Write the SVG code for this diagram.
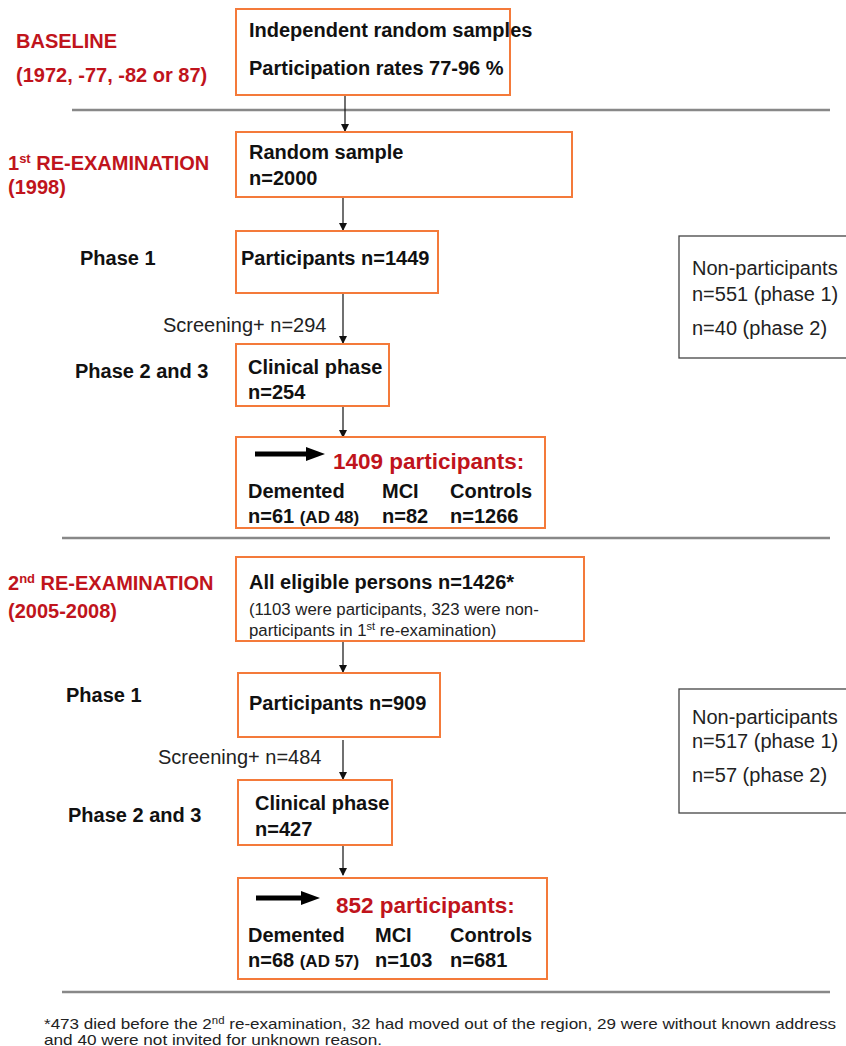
<svg xmlns="http://www.w3.org/2000/svg" width="846" height="1046" viewBox="0 0 846 1046">
<style>
.box{fill:#fff;stroke:#f47a3a;stroke-width:2}
.gbox{fill:#fff;stroke:#444;stroke-width:1.3}
.t{font-family:"Liberation Sans",Arial,sans-serif;font-size:20px;font-weight:bold;fill:#111}
.r{font-family:"Liberation Sans",Arial,sans-serif;font-size:20px;font-weight:bold;fill:#c0141c}
.rb{font-family:"Liberation Sans",Arial,sans-serif;font-size:22.5px;font-weight:bold;fill:#c0141c}
.n{font-family:"Liberation Sans",Arial,sans-serif;font-size:20px;fill:#222}
.s{font-family:"Liberation Sans",Arial,sans-serif;font-size:16.8px;fill:#222}
.f{font-family:"Liberation Sans",Arial,sans-serif;font-size:15px;fill:#222}
.sep{stroke:#888;stroke-width:2.5}
.con{stroke:#111;stroke-width:1.2;fill:none;marker-end:url(#ah)}
</style>
<defs>
<marker id="ah" markerWidth="8" markerHeight="8" refX="7" refY="4" orient="auto" markerUnits="userSpaceOnUse">
<path d="M0,0 L8,4 L0,8 Z" fill="#111"/>
</marker>
</defs>
<rect width="846" height="1046" fill="#fff"/>

<g id="separators">
<line class="sep" x1="72" y1="110" x2="830" y2="110"/>
<line class="sep" x1="62" y1="538" x2="830" y2="538"/>
<line class="sep" x1="62" y1="992" x2="830" y2="992"/>
</g>

<g id="labels">
<text class="r" x="16" y="48">BASELINE</text>
<text class="r" x="16" y="82">(1972, -77, -82 or 87)</text>
<text class="r" x="8" y="170">1<tspan font-size="13" dy="-7">st</tspan><tspan dy="7"> RE-EXAMINATION</tspan></text>
<text class="r" x="8" y="194">(1998)</text>
<text class="t" x="80" y="265">Phase 1</text>
<text class="t" x="75" y="378">Phase 2 and 3</text>
<text class="r" x="8" y="590">2<tspan font-size="13" dy="-7">nd</tspan><tspan dy="7"> RE-EXAMINATION</tspan></text>
<text class="r" x="8" y="618">(2005-2008)</text>
<text class="t" x="66" y="702">Phase 1</text>
<text class="t" x="68" y="822">Phase 2 and 3</text>
</g>

<g id="connectors">
<line class="con" x1="345" y1="95" x2="345" y2="131"/>
<line class="con" x1="343" y1="197" x2="343" y2="230"/>
<line class="con" x1="343" y1="293" x2="343" y2="343"/>
<line class="con" x1="343" y1="406" x2="343" y2="437"/>
<line class="con" x1="343" y1="641" x2="343" y2="672"/>
<line class="con" x1="343" y1="740" x2="343" y2="779"/>
<line class="con" x1="343" y1="845" x2="343" y2="875"/>
<text class="n" x="163" y="332">Screening+ n=294</text>
<text class="n" x="158" y="764">Screening+ n=484</text>
</g>

<g id="baseline">
<rect class="box" x="236" y="9" width="274" height="86"/>
<text class="t" x="249" y="37">Independent random samples</text>
<text class="t" x="249" y="75">Participation rates 77-96 %</text>
</g>

<g id="random-sample">
<rect class="box" x="236" y="132" width="336" height="65"/>
<text class="t" x="249" y="159">Random sample</text>
<text class="t" x="249" y="185">n=2000</text>
</g>

<g id="participants-1">
<rect class="box" x="236" y="231" width="202" height="62"/>
<text class="t" x="241" y="265">Participants n=1449</text>
</g>

<g id="clinical-1">
<rect class="box" x="236" y="344" width="153" height="62"/>
<text class="t" x="248" y="374">Clinical phase</text>
<text class="t" x="248" y="399">n=254</text>
</g>

<g id="result-1">
<rect class="box" x="236" y="437" width="309" height="91"/>
<line x1="255" y1="454" x2="310" y2="454" stroke="#000" stroke-width="5"/>
<polygon points="306,447 325,454 306,461" fill="#000"/>
<text class="rb" x="333" y="469">1409 participants:</text>
<text class="t" x="248" y="498">Demented</text>
<text class="t" x="382" y="498">MCI</text>
<text class="t" x="450" y="498">Controls</text>
<text class="t" x="248" y="523">n=61 <tspan font-size="17">(AD 48)</tspan></text>
<text class="t" x="382" y="523">n=82</text>
<text class="t" x="450" y="523">n=1266</text>
</g>

<g id="nonpart-1">
<rect class="gbox" x="679" y="236" width="180" height="122"/>
<text class="n" x="692" y="275">Non-participants</text>
<text class="n" x="692" y="301">n=551 (phase 1)</text>
<text class="n" x="692" y="335">n=40 (phase 2)</text>
</g>

<g id="eligible">
<rect class="box" x="236" y="557" width="348" height="84"/>
<text class="t" x="249" y="589">All eligible persons n=1426*</text>
<text class="s" x="249" y="615">(1103 were participants, 323 were non-</text>
<text class="s" x="249" y="636">participants in 1<tspan font-size="11" dy="-6">st</tspan><tspan dy="6"> re-examination)</tspan></text>
</g>

<g id="participants-2">
<rect class="box" x="238" y="673" width="202" height="64"/>
<text class="t" x="249" y="710">Participants n=909</text>
</g>

<g id="clinical-2">
<rect class="box" x="238" y="780" width="154" height="65"/>
<text class="t" x="255" y="810">Clinical phase</text>
<text class="t" x="255" y="836">n=427</text>
</g>

<g id="result-2">
<rect class="box" x="238" y="878" width="309" height="101"/>
<line x1="256" y1="898" x2="305" y2="898" stroke="#000" stroke-width="5"/>
<polygon points="301,891 320,898 301,905" fill="#000"/>
<text class="rb" x="336" y="913">852 participants:</text>
<text class="t" x="248" y="942">Demented</text>
<text class="t" x="375" y="942">MCI</text>
<text class="t" x="450" y="942">Controls</text>
<text class="t" x="248" y="967">n=68 <tspan font-size="17">(AD 57)</tspan></text>
<text class="t" x="375" y="967">n=103</text>
<text class="t" x="450" y="967">n=681</text>
</g>

<g id="nonpart-2">
<rect class="gbox" x="679" y="689" width="180" height="124"/>
<text class="n" x="692" y="724">Non-participants</text>
<text class="n" x="692" y="748">n=517 (phase 1)</text>
<text class="n" x="692" y="782">n=57 (phase 2)</text>
</g>

<g id="footnote">
<text class="f" x="44" y="1029" textLength="792" lengthAdjust="spacingAndGlyphs">*473 died before the 2<tspan font-size="10" dy="-5">nd</tspan><tspan dy="5"> re-examination, 32 had moved out of the region, 29 were without known address</tspan></text>
<text class="f" x="44" y="1045" textLength="338" lengthAdjust="spacingAndGlyphs">and 40 were not invited for unknown reason.</text>
</g>
</svg>
